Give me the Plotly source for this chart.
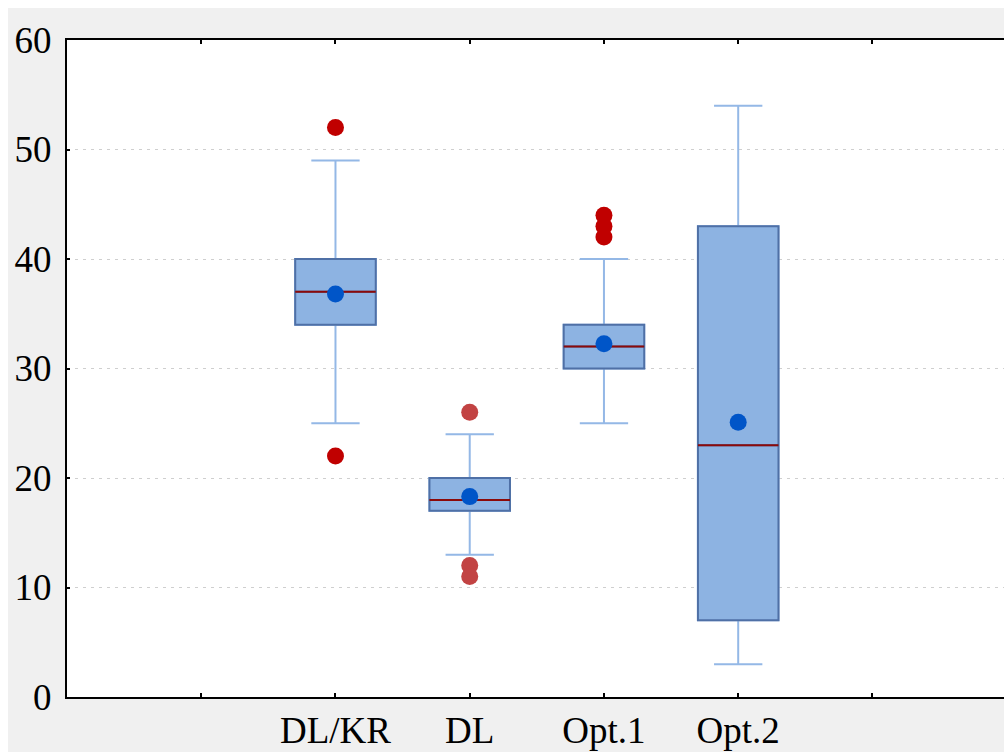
import plotly.graph_objects as go

# ---- data ----
categories = ["DL/KR", "DL", "Opt.1", "Opt.2"]
q1 = [34, 17, 30, 7]
median = [37, 18, 32, 23]
q3 = [40, 20, 34, 43]
lower_whisker = [25, 13, 25, 3]
upper_whisker = [49, 24, 40, 54]
means = [36.8, 18.3, 32.25, 25.1]
outlier_cat = ["DL/KR", "DL/KR", "Opt.1", "Opt.1", "Opt.1"]
outlier_val = [52, 22, 44, 43, 42]
outlier2_cat = ["DL", "DL", "DL"]
outlier2_val = [26, 12, 11]
y_ticks = [0, 10, 20, 30, 40, 50, 60]

pos = {c: i for i, c in enumerate(categories)}
xs = [pos[c] for c in categories]

FONT = "Liberation Serif, Times New Roman, serif"
BOX_FILL = "#8db3e2"
BOX_EDGE = "#4f70a6"
WHISK = "#94b8e6"
MED = "#8b0a0a"

fig = go.Figure()

# whiskers (light blue)
fig.add_trace(go.Box(
    x=xs, q1=q1, median=median, q3=q3,
    lowerfence=lower_whisker, upperfence=upper_whisker,
    fillcolor=BOX_FILL, line=dict(color=WHISK, width=2),
    width=0.6, whiskerwidth=0.6, boxpoints=False, showlegend=False,
    hoverinfo="skip",
))
# box body (dark blue outline)
fig.add_trace(go.Box(
    x=xs, q1=q1, median=median, q3=q3,
    lowerfence=q1, upperfence=q3,
    fillcolor=BOX_FILL, line=dict(color=BOX_EDGE, width=2),
    width=0.6, whiskerwidth=0, boxpoints=False, showlegend=False,
    hoverinfo="skip",
))
# median line (dark red)
fig.add_trace(go.Box(
    x=xs, q1=median, median=median, q3=median,
    lowerfence=median, upperfence=median,
    fillcolor="rgba(0,0,0,0)", line=dict(color=MED, width=2),
    width=0.6, whiskerwidth=0, boxpoints=False, showlegend=False,
    hoverinfo="skip",
))
# means
fig.add_trace(go.Scatter(
    x=xs, y=means, mode="markers",
    marker=dict(size=17, color="#0055c8"), showlegend=False,
))
# outliers
fig.add_trace(go.Scatter(
    x=[pos[c] for c in outlier_cat], y=outlier_val, mode="markers",
    marker=dict(size=17, color="#c00000"), showlegend=False,
))
fig.add_trace(go.Scatter(
    x=[pos[c] for c in outlier2_cat], y=outlier2_val, mode="markers",
    marker=dict(size=17, color="#c24343"), showlegend=False,
))

W, H = 1004, 752
ML, MR, MT, MB = 67, 0, 40, 55
pw, ph = W - ML - MR, H - MT - MB

fig.update_layout(
    width=W, height=H,
    margin=dict(l=ML, r=MR, t=MT, b=MB, pad=0),
    paper_bgcolor="#f0f0f0", plot_bgcolor="white",
    font=dict(family=FONT, size=37, color="black"),
    boxmode="overlay",
    shapes=[
        dict(type="rect", xref="paper", yref="paper",
             x0=-ML / pw - 0.01, x1=1.01, y0=(ph + MT - 8) / ph, y1=(ph + MT) / ph + 0.01,
             fillcolor="white", line=dict(width=0), layer="above"),
        dict(type="rect", xref="paper", yref="paper",
             x0=-ML / pw - 0.01, x1=(8 - ML) / pw, y0=-MB / ph - 0.01, y1=(ph + MT) / ph + 0.01,
             fillcolor="white", line=dict(width=0), layer="above"),
    ],
)
fig.update_xaxes(
    range=[-2, 4.98],
    tickvals=[-1] + xs + [len(categories)],
    ticktext=[""] + categories + [""],
    ticks="inside", ticklen=4, tickwidth=1.5, tickcolor="black",
    showline=True, linecolor="black", linewidth=2, mirror="ticks",
    showgrid=False, zeroline=False,
)
fig.update_yaxes(
    range=[0, 60], tickvals=y_ticks,
    ticks="inside", ticklen=3, tickwidth=1.5, tickcolor="black",
    showline=True, linecolor="black", linewidth=2, mirror=False,
    showgrid=True, gridcolor="#cfcfcf", gridwidth=1, griddash="3px,5px",
    zeroline=False, ticklabelstandoff=6,
)

fig.write_html("out.html")
